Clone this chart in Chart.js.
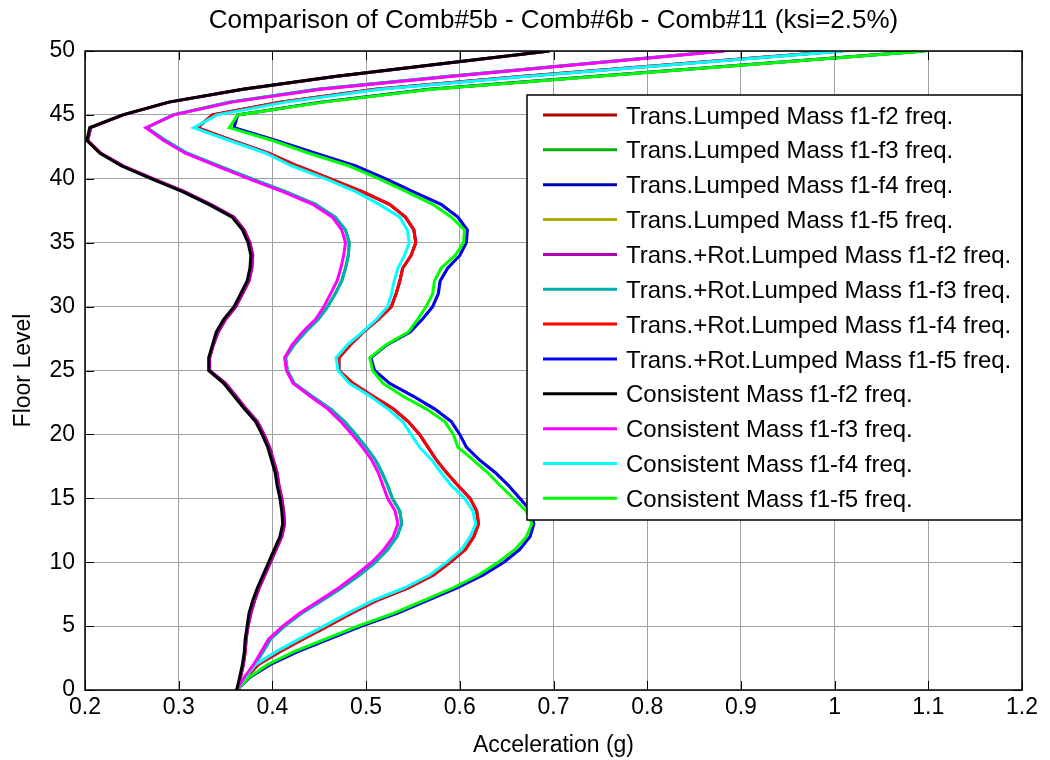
<!DOCTYPE html>
<html>
<head>
<meta charset="utf-8">
<title>Comb#5b - Comb#6b - Comb#11</title>
<script src="https://cdn.jsdelivr.net/npm/chart.js@4.4.1/dist/chart.umd.min.js"></script>
<style>
    body { margin: 0; background: #fff; }
    canvas { display: block; }
</style>
</head>
<body>
<canvas id="chart" width="1050" height="760"></canvas>
<script>
// ===== DATA =====
const floors = [0,1,2,3,4,5,6,7,8,9,10,11,12,13,14,15,16,17,18,19,20,21,22,23,24,25,
    26,27,28,29,30,31,32,33,34,35,36,37,38,39,40,41,42,43,44,45,46,47,48,49,50];

const xTicks = [0.2, 0.3, 0.4, 0.5, 0.6, 0.7, 0.8, 0.9, 1.0, 1.1, 1.2];
const yTicks = [0, 5, 10, 15, 20, 25, 30, 35, 40, 45, 50];

const chartTitle = "Comparison of Comb#5b - Comb#6b - Comb#11 (ksi=2.5%)";

// Trans.+Rot. lumped mass (the Trans. lumped mass curves sit right under these)
const rotF2 = [0.362,0.366,0.369,0.371,0.372,0.374,0.377,0.381,0.386,0.392,0.398,0.404,0.410,0.413,0.412,0.410,0.407,0.405,0.401,0.397,0.391,0.384,0.372,0.361,0.350,0.333,
    0.333,0.337,0.342,0.350,0.361,0.368,0.375,0.378,0.379,0.376,0.370,0.359,0.334,0.306,0.273,0.241,0.217,0.203,0.206,0.241,0.290,0.369,0.467,0.581,0.696];
const rotF3 = [0.362,0.371,0.381,0.390,0.398,0.413,0.431,0.453,0.474,0.493,0.510,0.523,0.533,0.538,0.536,0.528,0.523,0.517,0.510,0.500,0.489,0.477,0.462,0.442,0.423,0.416,
    0.414,0.423,0.435,0.449,0.459,0.467,0.474,0.478,0.481,0.482,0.478,0.467,0.446,0.414,0.378,0.343,0.309,0.286,0.266,0.294,0.354,0.448,0.586,0.733,0.881];
const rotF4 = [0.362,0.372,0.385,0.408,0.433,0.459,0.484,0.511,0.545,0.572,0.590,0.606,0.615,0.620,0.618,0.611,0.598,0.586,0.575,0.566,0.557,0.545,0.529,0.507,0.486,0.471,
    0.471,0.483,0.497,0.513,0.527,0.532,0.536,0.539,0.548,0.553,0.551,0.542,0.525,0.496,0.462,0.427,0.396,0.357,0.320,0.336,0.408,0.510,0.665,0.836,1.008];
const rotF5 = [0.362,0.376,0.398,0.427,0.461,0.495,0.533,0.565,0.597,0.625,0.647,0.664,0.675,0.679,0.676,0.664,0.652,0.638,0.621,0.607,0.600,0.591,0.573,0.550,0.525,0.509,
    0.505,0.522,0.547,0.560,0.571,0.577,0.579,0.587,0.600,0.607,0.608,0.598,0.580,0.550,0.521,0.489,0.446,0.404,0.359,0.363,0.452,0.567,0.742,0.919,1.096];

// Consistent mass
const consF2 = [0.362,0.365,0.368,0.370,0.371,0.373,0.375,0.379,0.384,0.390,0.396,0.402,0.408,0.411,0.410,0.408,0.405,0.403,0.399,0.395,0.389,0.382,0.370,0.359,0.348,0.332,
    0.332,0.336,0.340,0.348,0.359,0.366,0.373,0.376,0.377,0.374,0.368,0.357,0.332,0.304,0.271,0.239,0.216,0.202,0.205,0.240,0.289,0.368,0.466,0.580,0.695];
const consF3 = [0.362,0.370,0.380,0.388,0.396,0.411,0.429,0.450,0.471,0.489,0.506,0.519,0.529,0.534,0.531,0.523,0.518,0.513,0.506,0.496,0.485,0.473,0.459,0.440,0.422,0.415,
    0.413,0.421,0.432,0.446,0.455,0.462,0.469,0.473,0.476,0.478,0.474,0.464,0.443,0.411,0.375,0.341,0.307,0.284,0.265,0.295,0.357,0.452,0.590,0.736,0.883];
const consF4 = [0.362,0.371,0.382,0.404,0.429,0.455,0.480,0.507,0.541,0.568,0.586,0.602,0.611,0.617,0.614,0.605,0.591,0.580,0.570,0.557,0.548,0.539,0.523,0.504,0.482,0.470,
    0.468,0.480,0.496,0.511,0.523,0.527,0.530,0.534,0.541,0.546,0.544,0.536,0.514,0.489,0.457,0.421,0.393,0.354,0.316,0.341,0.414,0.515,0.670,0.840,1.011];
const consF5 = [0.362,0.375,0.395,0.423,0.457,0.491,0.529,0.561,0.593,0.620,0.641,0.659,0.671,0.677,0.671,0.657,0.643,0.630,0.614,0.598,0.593,0.584,0.564,0.539,0.518,0.507,
    0.504,0.521,0.545,0.555,0.564,0.571,0.573,0.580,0.595,0.604,0.605,0.591,0.571,0.543,0.514,0.482,0.439,0.400,0.354,0.363,0.455,0.570,0.745,0.921,1.097];

const FONT = '"Liberation Sans", Arial, sans-serif';

// ===== DATASETS =====
// order: lower value is painted last, so the consistent-mass curves end up on top
function series(label, values, color, order) {
    return {
        label: label,
        data: values.map((v, i) => ({ x: v, y: floors[i] })),
        borderColor: color,
        backgroundColor: color,
        borderWidth: 3,
        pointRadius: 0,
        showLine: true,
        tension: 0,
        order: order,
    };
}

const datasets = [
    series("Trans.Lumped Mass f1-f2 freq.", rotF2, "#b00000", 2),
    series("Trans.Lumped Mass f1-f3 freq.", rotF3, "#00b000", 2),
    series("Trans.Lumped Mass f1-f4 freq.", rotF4, "#0000b0", 2),
    series("Trans.Lumped Mass f1-f5 freq.", rotF5, "#b0b000", 2),
    series("Trans.+Rot.Lumped Mass f1-f2 freq.", rotF2, "#b000b0", 1),
    series("Trans.+Rot.Lumped Mass f1-f3 freq.", rotF3, "#00b0b0", 1),
    series("Trans.+Rot.Lumped Mass f1-f4 freq.", rotF4, "#ff0000", 1),
    series("Trans.+Rot.Lumped Mass f1-f5 freq.", rotF5, "#0000ff", 1),
    series("Consistent Mass f1-f2 freq.", consF2, "#000000", 0),
    series("Consistent Mass f1-f3 freq.", consF3, "#ff00ff", 0),
    series("Consistent Mass f1-f4 freq.", consF4, "#00ffff", 0),
    series("Consistent Mass f1-f5 freq.", consF5, "#00ff00", 0),
];

// ===== FRAME + LEGEND + TITLE (matlab style box, inward ticks, legend inside axes) =====
const matlabFrame = {
    id: "matlabFrame",
    afterDatasetsDraw(chart) {
        const { ctx, chartArea: a, scales } = chart;
        ctx.save();
        ctx.strokeStyle = "#000";
        ctx.lineWidth = 1;
        ctx.beginPath();
        xTicks.forEach(v => {
            const px = Math.round(scales.x.getPixelForValue(v)) + 0.5;
            ctx.moveTo(px, a.bottom); ctx.lineTo(px, a.bottom - 9);
            ctx.moveTo(px, a.top); ctx.lineTo(px, a.top + 9);
        });
        yTicks.forEach(v => {
            const py = Math.round(scales.y.getPixelForValue(v)) + 0.5;
            ctx.moveTo(a.left, py); ctx.lineTo(a.left + 9, py);
            ctx.moveTo(a.right, py); ctx.lineTo(a.right - 9, py);
        });
        ctx.stroke();

        // legend box
        const box = { left: 527, top: 95, right: a.right, bottom: 520 };
        ctx.fillStyle = "#fff";
        ctx.fillRect(box.left, box.top, box.right - box.left, box.bottom - box.top);
        ctx.lineWidth = 1.5;
        ctx.strokeRect(box.left, box.top, box.right - box.left, box.bottom - box.top);

        ctx.font = `24px ${FONT}`;
        ctx.textBaseline = "middle";
        ctx.textAlign = "left";
        chart.data.datasets.forEach((ds, i) => {
            const yy = 115 + i * 34.85;
            ctx.strokeStyle = ds.borderColor;
            ctx.lineWidth = 3;
            ctx.beginPath();
            ctx.moveTo(543, yy);
            ctx.lineTo(617, yy);
            ctx.stroke();
            ctx.fillStyle = "#000";
            ctx.fillText(ds.label, 626, yy + 2);
        });

        // axes box on top
        ctx.strokeStyle = "#000";
        ctx.lineWidth = 1.5;
        ctx.strokeRect(a.left, a.top, a.right - a.left, a.bottom - a.top);

        // title centred over the axes
        ctx.fillStyle = "#000";
        ctx.font = `26px ${FONT}`;
        ctx.textAlign = "center";
        ctx.fillText(chartTitle, (a.left + a.right) / 2, 21);
        ctx.restore();
    },
};

// ===== CHART =====
new Chart(document.getElementById("chart"), {
    type: "scatter",
    data: { datasets: datasets },
    plugins: [matlabFrame],
    options: {
        responsive: false,
        animation: false,
        devicePixelRatio: 1,
        layout: { padding: { top: 51, right: 28, bottom: 0, left: 0 } },
        plugins: {
            legend: { display: false },
            tooltip: { enabled: false },
            title: { display: false },
        },
        scales: {
            x: {
                type: "linear",
                min: 0.2,
                max: 1.2,
                afterBuildTicks: s => { s.ticks = xTicks.map(v => ({ value: v })); },
                afterFit: s => { s.height = 70; },
                ticks: {
                    color: "#000",
                    font: { family: FONT, size: 23 },
                    padding: 4,
                    maxRotation: 0,
                    callback: v => String(Number(v.toFixed(1))),
                },
                grid: { color: "#a0a0a0", lineWidth: 1, drawTicks: false },
                border: { display: false },
                title: {
                    display: true,
                    text: "Acceleration (g)",
                    color: "#000",
                    font: { family: FONT, size: 23 },
                    padding: { top: 0, bottom: 1 },
                },
            },
            y: {
                type: "linear",
                min: 0,
                max: 50,
                afterBuildTicks: s => { s.ticks = yTicks.map(v => ({ value: v })); },
                afterFit: s => { s.width = 85; },
                ticks: {
                    color: "#000",
                    font: { family: FONT, size: 23 },
                    padding: 10,
                },
                grid: { color: "#a0a0a0", lineWidth: 1, drawTicks: false },
                border: { display: false },
                title: {
                    display: true,
                    text: "Floor Level",
                    color: "#000",
                    font: { family: FONT, size: 23 },
                    padding: { top: 10, bottom: 0 },
                },
            },
        },
    },
});
</script>
</body>
</html>
